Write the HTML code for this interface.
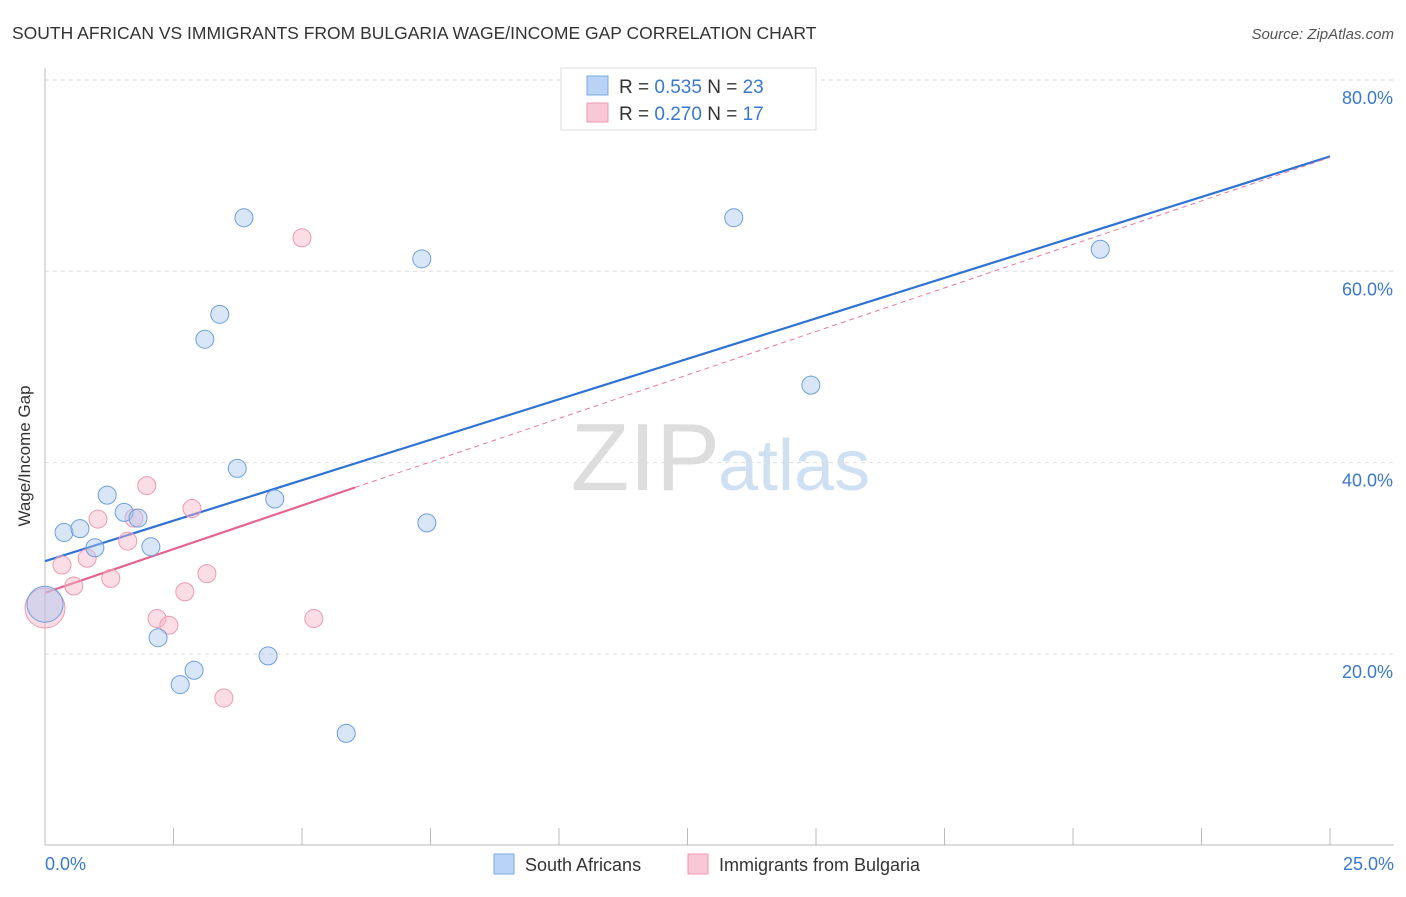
<!DOCTYPE html>
<html><head><meta charset="utf-8"><style>
body{margin:0;background:#fff;font-family:"Liberation Sans",sans-serif}
svg text{font-family:"Liberation Sans",sans-serif}
</style></head><body>
<svg id="c" width="1406" height="892" xmlns="http://www.w3.org/2000/svg">
<text x="12" y="39" font-size="17.5" fill="#333">SOUTH AFRICAN VS IMMIGRANTS FROM BULGARIA WAGE/INCOME GAP CORRELATION CHART</text>
<text x="1394" y="39" font-size="15" fill="#555" text-anchor="end" font-style="italic">Source: ZipAtlas.com</text>
<text x="720" y="490" font-size="96" fill="#ddd" text-anchor="end" font-family="Liberation Serif">ZIP</text>
<text x="718" y="490" font-size="72" fill="#cfe0f3">atlas</text>
<g id="grid"></g>
<line x1="45" y1="68" x2="45" y2="845" stroke="#bbb"/>
<line x1="45" y1="845" x2="1394" y2="845" stroke="#bbb"/>
<g id="ticks"></g>
<text x="30" y="456" font-size="17" fill="#333" text-anchor="middle" transform="rotate(-90 30 456)">Wage/Income Gap</text>
<text x="45" y="870" font-size="18" fill="#3a78d0">0.0%</text>
<text x="1394" y="870" font-size="18" fill="#3a78d0" text-anchor="end">25.0%</text>
<g id="lines"></g>
<g id="pts"></g>
<g>
<rect x="561" y="68" width="255" height="62" fill="#fff" stroke="#ddd"/>
<rect x="587" y="76" width="21" height="19" fill="#b8d3f5" stroke="#7aa8e0"/>
<rect x="587" y="103" width="21" height="19" fill="#f9c8d6" stroke="#ee9ab3"/>
<text x="619" y="93" font-size="19" fill="#333">R = <tspan fill="#3a78d0">0.535</tspan>   N = <tspan fill="#3a78d0">23</tspan></text>
<text x="619" y="120" font-size="19" fill="#333">R = <tspan fill="#3a78d0">0.270</tspan>   N = <tspan fill="#3a78d0"> 17</tspan></text>
</g>
<g>
<rect x="494" y="854" width="20" height="20" fill="#b8d3f5" stroke="#7aa8e0"/>
<text x="525" y="871" font-size="18" fill="#333">South Africans</text>
<rect x="688" y="854" width="20" height="20" fill="#f9c8d6" stroke="#ee9ab3"/>
<text x="719" y="871" font-size="18" fill="#333">Immigrants from Bulgaria</text>
</g>
</svg>
<script>
const yTicks=[20,40,60,80];
const xTicks=[0,2.5,5,7.5,10,12.5,15,17.5,20,22.5,25];
const blueX=[3.87,13.40,7.33,20.53,3.40,3.11,14.90,3.74,1.21,4.47,0.37,0.68,1.54,1.81,0.97,2.06,7.43,2.20,4.34,2.90,2.63,5.86,0];
const blueY=[65.6,65.6,61.3,62.3,55.5,52.9,48.1,39.4,36.6,36.2,32.7,33.1,34.8,34.2,31.1,31.2,33.7,21.7,19.8,18.3,16.8,11.7,25.2];
const pinkX=[5.00,1.98,1.03,2.86,1.73,1.61,0.33,0.82,0.56,1.28,3.15,2.72,2.18,2.41,5.23,3.48,0];
const pinkY=[63.5,37.6,34.1,35.2,34.2,31.8,29.3,30.0,27.1,27.9,28.4,26.5,23.7,23.0,23.7,15.4,24.8];
const blueLine=[29.7,72.0];
const pinkLine=[26.4,37.4,6.03,71.9];
const NS='http://www.w3.org/2000/svg';
const X=v=>45+v*51.4, Y=v=>845.3-v*9.567;
function mk(t,a,p){const e=document.createElementNS(NS,t);for(const k in a)e.setAttribute(k,a[k]);document.getElementById(p).appendChild(e);return e;}
yTicks.forEach(t=>{
 const l=mk('line',{x1:45,x2:1394,y1:Y(t),y2:Y(t),stroke:'#ddd','stroke-dasharray':'4 4'},'grid');
 
 
 const tx=mk('text',{x:1393,y:Y(t)+24,'font-size':18,fill:'#3a78d0','text-anchor':'end'},'grid');
 tx.textContent=t.toFixed(1)+'%';
 
 
});
xTicks.forEach(t=>{
 const l=mk('line',{x1:X(t),x2:X(t),y1:828,y2:845,stroke:'#bbb'},'ticks');
 
 
});
let l1=mk('line',{x1:X(0),y1:Y(blueLine[0]),x2:X(25),y2:Y(blueLine[1]),stroke:'#2f72d6','stroke-width':2.2},'lines');


let l2=mk('line',{x1:X(pinkLine[2]),y1:Y(pinkLine[1]),x2:X(25),y2:Y(pinkLine[3]),stroke:'#e8799c','stroke-width':1,'stroke-dasharray':'5 4'},'lines');


let l3=mk('line',{x1:X(0),y1:Y(pinkLine[0]),x2:X(pinkLine[2]),y2:Y(pinkLine[1]),stroke:'#e5648e','stroke-width':2.2},'lines');


pinkX.forEach((v,i)=>{
 const big=v===0;
 const c=mk('circle',{cx:X(v),cy:Y(pinkY[i]),r:big?20:9,fill:'rgba(246,180,200,0.45)',stroke:'#ee9ab3','stroke-width':1},'pts');
 
 
});
blueX.forEach((v,i)=>{
 const big=v===0;
 const c=mk('circle',{cx:X(v),cy:Y(blueY[i]),r:big?18:9,fill:'rgba(170,200,240,0.45)',stroke:'#6d9fe0','stroke-width':1},'pts');
 
 
});
</script>
</body></html>
